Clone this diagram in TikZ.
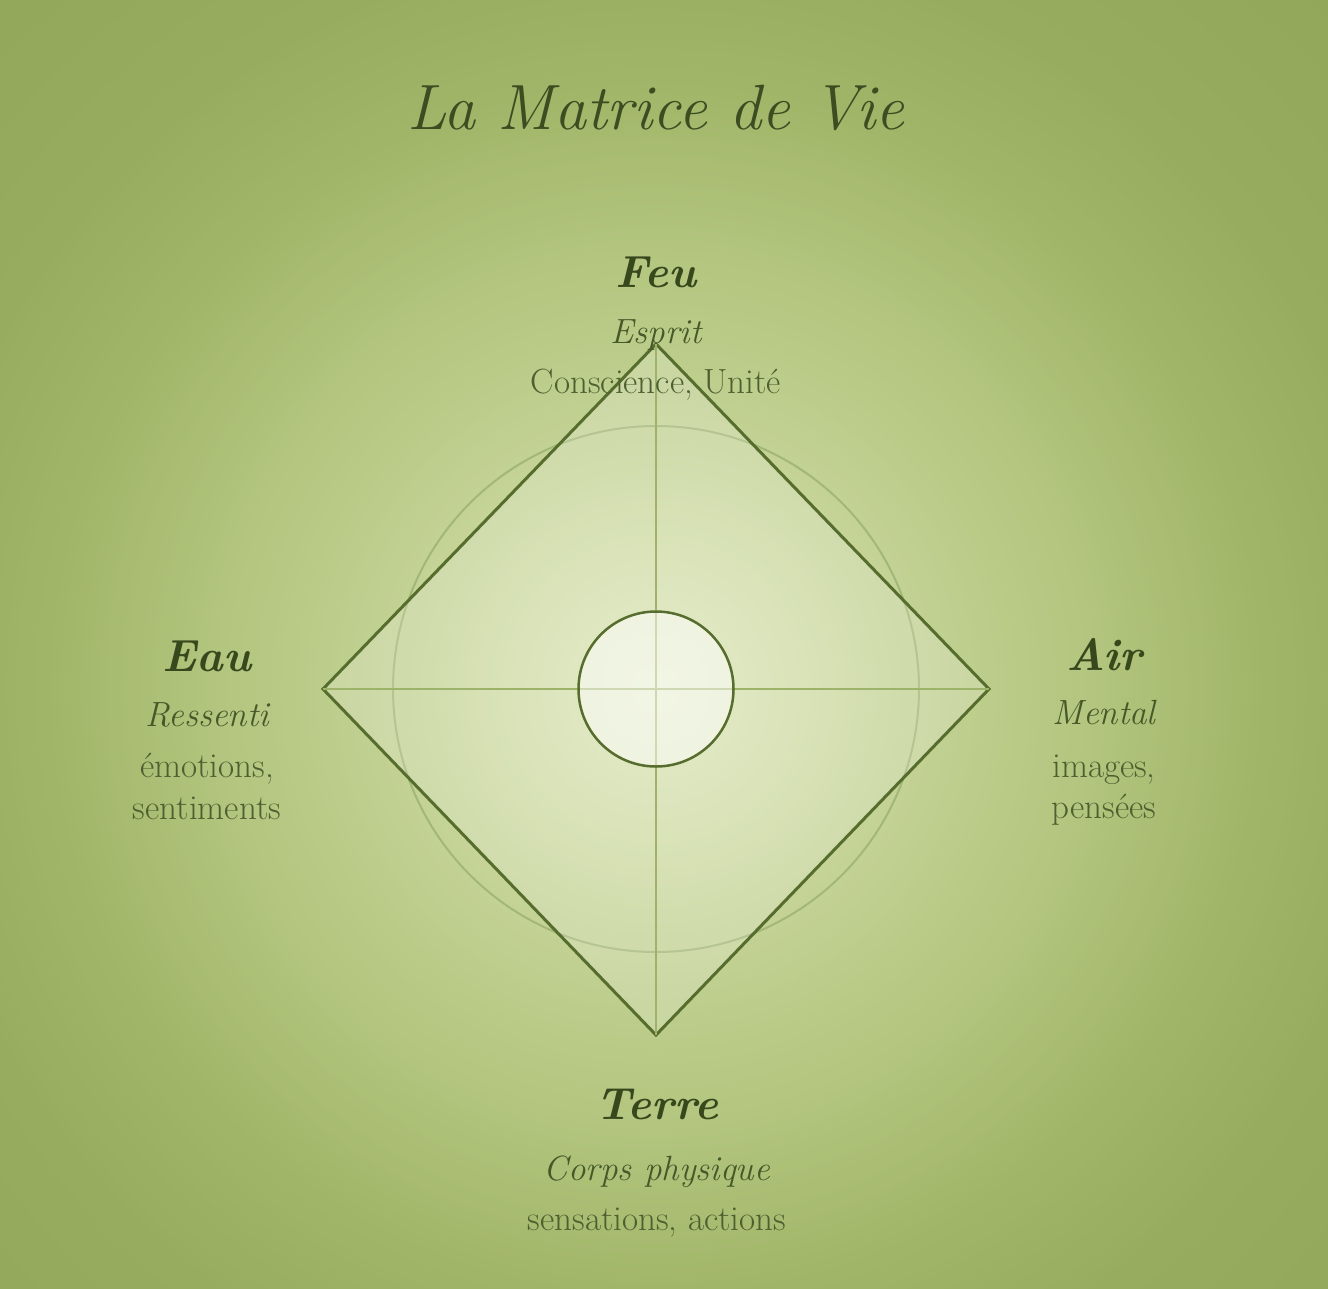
\documentclass[tikz,border=0pt]{standalone}
\usepackage{fontspec}
\usetikzlibrary{shapes.geometric}
\definecolor{titlec}{HTML}{3D4D22}
\definecolor{headc}{HTML}{38481D}
\definecolor{subc}{HTML}{475829}
\definecolor{descc}{HTML}{4E6030}
\definecolor{diamc}{HTML}{566D2E}
\definecolor{crossc}{HTML}{9DB36A}
\definecolor{ringc}{HTML}{A3B777}
\definecolor{bgzero}{HTML}{DFE8BF}
\definecolor{bgone}{HTML}{D0DCA7}
\definecolor{bgtwo}{HTML}{BFCF8F}
\definecolor{bgthree}{HTML}{B2C47D}
\definecolor{bgfour}{HTML}{A2B669}
\definecolor{bgfive}{HTML}{98AC5F}
\definecolor{bgsix}{HTML}{93A75B}
\tikzset{
  titlestyle/.style={font=\fontsize{64}{76}\selectfont\itshape, text=titlec, anchor=base, inner sep=0pt},
  headstyle/.style={font=\fontsize{45}{54}\selectfont\bfseries\itshape, text=headc, anchor=base, inner sep=0pt},
  substyle/.style={font=\fontsize{35}{42}\selectfont\itshape, text=subc, anchor=base, inner sep=0pt},
  descstyle/.style={font=\fontsize{35}{42}\selectfont, text=descc, anchor=base, inner sep=0pt},
  diamondline/.style={draw=diamc, line width=3pt, line join=miter, fill=white, fill opacity=0.2},
  crossline/.style={draw=crossc, line width=1.6pt},
  ringstyle/.style={circle, draw=ringc, line width=2pt, inner sep=0pt},
  corestyle/.style={circle, draw=diamc, line width=2.5pt, fill=white, fill opacity=0.5, inner sep=0pt}
}
\begin{document}
\begin{tikzpicture}[x=1pt,y=-1pt]
\useasboundingbox (0,0) rectangle (1328,1288);
\coordinate (C) at (656,689);
\begin{scope}
\clip (0,0) rectangle (1328,1288);
\fill[bgsix] (0,0) rectangle (1328,1288);
\foreach \ra/\rb/\ca/\cb in {750/970/bgfive/bgsix, 600/750/bgfour/bgfive, 450/600/bgthree/bgfour, 300/450/bgtwo/bgthree, 150/300/bgone/bgtwo, 0/150/bgzero/bgone}{
  \foreach \k in {0,...,30}{
    \pgfmathsetmacro\rr{\rb-\k*(\rb-\ra)/30}
    \pgfmathtruncatemacro\pp{100-\k*100/30}
    \fill[\cb!\pp!\ca] (C) circle[radius=\rr pt];
  }
}
\end{scope}
\coordinate (T) at (656,344);
\coordinate (B) at (656,1035);
\coordinate (L) at (323,689);
\coordinate (R) at (989,689);
% large ring
\node[ringstyle, minimum size=526pt] (ring) at (C) {};
% diamond
\draw[diamondline] (T) -- (R) -- (B) -- (L) -- cycle;
% cross
\draw[crossline] (T) -- (B);
\draw[crossline] (L) -- (R);
% core circle
\node[corestyle, minimum size=155pt] (core) at (C) {};
% title
\node[titlestyle] (title) at (656,129) {La Matrice de Vie};
% Feu
\node[headstyle] (feu) at (656,287) {Feu};
\node[substyle] (esprit) at (656,343) {Esprit};
\node[descstyle] (feudesc) at (656,393) {Conscience, Unité};
% Eau
\node[headstyle] (eau) at (207,671) {Eau};
\node[substyle] (ressenti) at (207,726) {Ressenti};
\node[descstyle] (eaudesc1) at (207,777) {émotions,};
\node[descstyle] (eaudesc2) at (207,819) {sentiments};
% Air
\node[headstyle] (air) at (1104,670) {Air};
\node[substyle] (mental) at (1104,724) {Mental};
\node[descstyle] (airdesc1) at (1104,777) {images,};
\node[descstyle] (airdesc2) at (1104,818) {pensées};
% Terre
\node[headstyle] (terre) at (657,1119) {Terre};
\node[substyle] (corps) at (657,1180) {Corps physique};
\node[descstyle] (terredesc) at (657,1230) {sensations, actions};
\end{tikzpicture}
\end{document}
